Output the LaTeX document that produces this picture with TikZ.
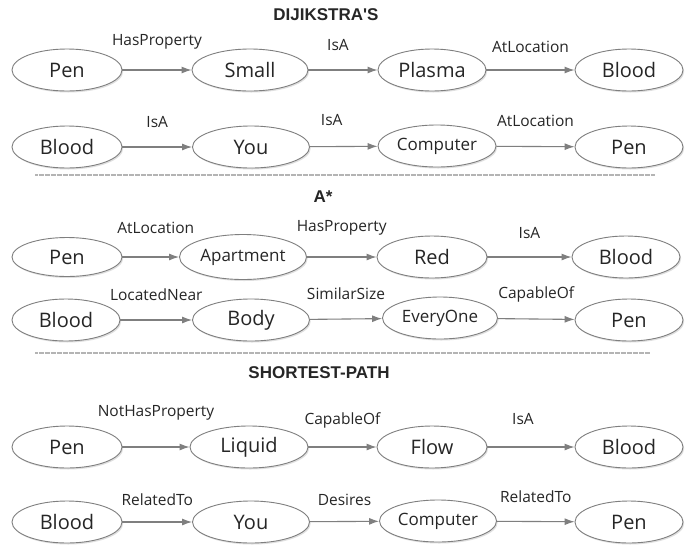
\documentclass[tikz,border=0pt]{standalone}
\usepackage{fontspec}
\setmainfont{Open Sans}
\newfontfamily\titlefont{Liberation Sans}
\usetikzlibrary{arrows.meta,shapes.geometric,shadows}
\definecolor{edgegray}{HTML}{7F7F7F}
\definecolor{txt}{HTML}{262626}
\definecolor{sepgray}{HTML}{B4B4B4}
\begin{document}
\begin{tikzpicture}[x=1pt,y=-1pt,
  concept/.style={ellipse, draw=edgegray, line width=0.9pt, fill=white, inner sep=0pt,
    minimum height=42pt, text=txt, font=\fontsize{20}{24}\selectfont,
    drop shadow={shadow xshift=1.2pt, shadow yshift=-1.5pt, opacity=0.25}},
  cword/.style={concept, font=\fontsize{17}{20}\selectfont},
  rel/.style={draw=edgegray, line width=1.1pt, -{Latex[length=10pt,width=7pt]}},
  lbl/.style={midway, font=\fontsize{15.5}{18}\selectfont, text=txt},
  title/.style={font=\titlefont\bfseries\fontsize{17}{20}\selectfont, text=txt},
  sep/.style={draw=sepgray, line width=1.4pt, dash pattern=on 0.6pt off 0.6pt}]
\useasboundingbox[fill=white] (0,0) rectangle (699,550);

% titles
\node[title] (t1) at (326,15) {DIJIKSTRA'S};
\node[title] (t2) at (323,197) {A*};
\node[title] (t3) at (319,373) {SHORTEST-PATH};

% separators
\coordinate (s1a) at (35,175); \coordinate (s1b) at (655,175);
\coordinate (s2a) at (35,353); \coordinate (s2b) at (650,353);
\draw[sep] (s1a) -- (s1b);
\draw[sep] (s2a) -- (s2b);

% Row 1
\node[concept, minimum width=110pt] (r1a) at (67,70) {Pen};
\node[concept, minimum width=116pt] (r1b) at (250,70) {Small};
\node[concept, minimum width=108pt] (r1c) at (432,70) {Plasma};
\node[concept, minimum width=108pt] (r1d) at (629,70) {Blood};
\draw[rel] (r1a) -- node[lbl, yshift=28pt] (l1a) {HasProperty} (r1b);
\draw[rel] (r1b) -- node[lbl, yshift=25pt, xshift=-5pt] (l1b) {IsA} (r1c);
\draw[rel] (r1c) -- node[lbl, yshift=23pt] (l1c) {AtLocation} (r1d);

% Row 2
\node[concept, minimum width=110pt] (r2a) at (67,147) {Blood};
\node[concept, minimum width=117pt] (r2b) at (251,147) {You};
\node[cword, minimum width=118pt] (r2c) at (437,146) {Computer};
\node[concept, minimum width=108pt] (r2d) at (629,147) {Pen};
\draw[rel] (r2a) -- node[lbl, yshift=25pt] (l2a) {IsA} (r2b);
\draw[rel] (r2b) -- node[lbl, yshift=26pt, xshift=-12pt] (l2b) {IsA} (r2c);
\draw[rel] (r2c) -- node[lbl, yshift=26pt] (l2c) {AtLocation} (r2d);

% Row 3
\node[concept, minimum width=110pt, minimum height=39pt] (r3a) at (67,257) {Pen};
\node[cword, minimum width=127pt, minimum height=45pt] (r3b) at (243,257) {Apartment};
\node[concept, minimum width=110pt] (r3c) at (432,257) {Red};
\node[concept, minimum width=108pt] (r3d) at (626,257) {Blood};
\draw[rel] (r3a) -- node[lbl, yshift=29pt, xshift=5pt] (l3a) {AtLocation} (r3b);
\draw[rel] (r3b) -- node[lbl, yshift=29pt] (l3b) {HasProperty} (r3c);
\draw[rel] (r3c) -- node[lbl, yshift=24pt] (l3c) {IsA} (r3d);

% Row 4
\node[concept, minimum width=108pt] (r4a) at (66,320) {Blood};
\node[concept, minimum width=117pt] (r4b) at (251,320) {Body};
\node[cword, minimum width=115pt] (r4c) at (440,318) {EveryOne};
\node[concept, minimum width=108pt] (r4d) at (629,320) {Pen};
\draw[rel] (r4a) -- node[lbl, yshift=25pt] (l4a) {LocatedNear} (r4b);
\draw[rel] (r4b) -- node[lbl, yshift=25pt] (l4b) {SimilarSize} (r4c);
\draw[rel] (r4c) -- node[lbl, yshift=25pt] (l4c) {CapableOf} (r4d);

% Row 5
\node[concept, minimum width=110pt] (r5a) at (67,447) {Pen};
\node[concept, minimum width=118pt] (r5b) at (249,447) {Liquid};
\node[concept, minimum width=110pt] (r5c) at (432,447) {Flow};
\node[concept, minimum width=108pt] (r5d) at (629,447) {Blood};
\draw[rel] (r5a) -- node[lbl, yshift=34pt] (l5a) {NotHasProperty} (r5b);
\draw[rel] (r5b) -- node[lbl, yshift=27pt] (l5b) {CapableOf} (r5c);
\draw[rel] (r5c) -- node[lbl, yshift=28pt, xshift=-8pt] (l5c) {IsA} (r5d);

% Row 6
\node[concept, minimum width=110pt] (r6a) at (67,522) {Blood};
\node[concept, minimum width=117pt] (r6b) at (251,522) {You};
\node[cword, minimum width=117pt] (r6c) at (438,521) {Computer};
\node[concept, minimum width=108pt] (r6d) at (629,522) {Pen};
\draw[rel] (r6a) -- node[lbl, yshift=22pt] (l6a) {RelatedTo} (r6b);
\draw[rel] (r6b) -- node[lbl, yshift=22pt] (l6b) {Desires} (r6c);
\draw[rel] (r6c) -- node[lbl, yshift=25pt] (l6c) {RelatedTo} (r6d);
\end{tikzpicture}
\end{document}
